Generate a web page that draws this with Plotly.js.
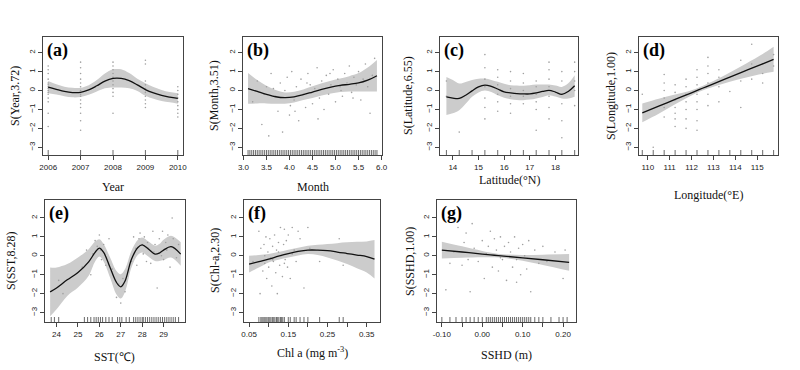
<!DOCTYPE html>
<html><head><meta charset="utf-8">
<script src="https://cdn.plot.ly/plotly-3.0.1.min.js"></script>
<style>html,body{margin:0;padding:0;background:#fff;}#chart{width:800px;height:370px;}</style>
</head><body><div id="chart"></div>
<script>
// ---------- (a) Year ----------
const yearX   = [2006,2006.25,2006.5,2006.75,2007,2007.25,2007.5,2007.75,2008,2008.25,2008.5,2008.75,2009,2009.25,2009.5,2009.75,2010];
const yearFit = [0.18,0.06,-0.05,-0.11,-0.10,0.03,0.25,0.50,0.64,0.64,0.52,0.30,0.05,-0.13,-0.26,-0.35,-0.42];
const yearUp  = [0.50,0.33,0.20,0.14,0.14,0.28,0.55,0.90,1.12,1.12,0.92,0.62,0.38,0.18,0.03,-0.08,-0.14];
const yearLo  = [-0.14,-0.21,-0.30,-0.36,-0.34,-0.22,-0.05,0.12,0.16,0.16,0.12,-0.02,-0.28,-0.44,-0.55,-0.62,-0.70];
const yearPtX = [2006,2006,2006,2006,2006,2006,2006,2006,2006,2006,2006,2006,2006,2006,2006,
                 2007,2007,2007,2007,2007,2007,2007,2007,2007,2007,2007,2007,2007,2007,2007,
                 2008,2008,2008,2008,2008,2008,2008,2008,2008,2008,2008,
                 2009,2009,2009,2009,2009,2009,2009,2009,2009,2009,
                 2010,2010,2010,2010,2010,2010,2010,2010,2010];
const yearPtY = [1.3,1.1,0.9,0.6,0.4,0.3,0.2,0.1,0.0,-0.1,-0.2,-0.4,-0.6,-1.2,-1.9,
                 1.5,1.2,0.9,0.6,0.4,0.2,0.0,-0.2,-0.3,-0.5,-0.7,-0.9,-1.2,-1.6,-2.1,
                 1.5,1.3,1.1,0.9,0.7,0.5,0.3,0.1,-0.1,-0.3,-1.2,
                 1.6,1.4,0.5,0.3,0.1,-0.1,-0.3,-0.5,-0.7,-0.9,
                 0.2,0.0,-0.2,-0.4,-0.6,-0.8,-1.0,-1.2,-1.4];
const yearRug = [2006,2007,2008,2009,2010];

// ---------- (b) Month ----------
const monX   = [3.1,3.3,3.5,3.7,3.9,4.1,4.3,4.5,4.7,4.9,5.1,5.3,5.5,5.7,5.9];
const monFit = [0.10,-0.05,-0.20,-0.33,-0.38,-0.34,-0.22,-0.08,0.06,0.18,0.27,0.33,0.40,0.55,0.78];
const monUp  = [0.92,0.55,0.25,0.03,-0.10,-0.06,0.06,0.22,0.38,0.52,0.64,0.76,0.92,1.22,1.62];
const monLo  = [-0.70,-0.68,-0.68,-0.70,-0.70,-0.64,-0.50,-0.40,-0.27,-0.16,-0.08,-0.05,-0.05,-0.05,-0.05];
const monPtX = [3.2,3.3,3.4,3.5,3.55,3.6,3.7,3.75,3.8,3.85,3.9,3.95,4.0,4.05,4.1,4.15,4.2,4.25,4.3,4.35,4.4,4.45,4.5,4.55,4.6,4.65,4.7,4.75,4.8,4.85,4.9,4.95,5.0,5.05,5.1,5.15,5.2,5.25,5.3,5.35,5.4,5.45,5.5,5.55,5.6,5.65,5.7,5.75,5.8,5.85,3.65,4.02,4.38,4.62,4.88,5.12,5.38,5.62,3.45,4.12];
const monPtY = [-0.6,0.5,-1.8,0.2,-2.4,0.9,-0.3,-1.1,0.4,-2.2,0.0,0.7,-1.3,1.0,-0.5,0.2,-1.6,0.6,-0.2,-0.9,0.9,0.3,-0.7,0.1,1.2,-0.4,0.5,-1.0,0.8,-0.2,0.3,1.1,-0.6,0.6,0.2,-0.3,0.9,0.4,1.3,-0.1,0.7,0.3,1.0,-0.5,0.6,1.4,0.2,-1.2,0.8,1.7,0.1,-0.8,0.4,-1.5,0.9,0.0,-0.4,0.5,-0.2,-1.1];
const monRug = [3.1,3.14,3.18,3.22,3.26,3.3,3.34,3.38,3.42,3.46,3.5,3.54,3.58,3.62,3.66,3.7,3.74,3.78,3.82,3.86,3.9,3.94,3.98,4.02,4.06,4.1,4.14,4.18,4.22,4.26,4.3,4.34,4.38,4.42,4.46,4.5,4.54,4.58,4.62,4.66,4.7,4.74,4.78,4.82,4.86,4.9,4.94,4.98,5.02,5.06,5.1,5.14,5.18,5.22,5.26,5.3,5.34,5.38,5.42,5.46,5.5,5.54,5.58,5.62,5.66,5.7,5.74,5.78,5.82,5.86,5.9];

// ---------- (c) Latitude ----------
const latX   = [13.75,14.0,14.25,14.5,14.75,15.0,15.25,15.5,15.75,16.0,16.25,16.5,16.75,17.0,17.25,17.5,17.75,18.0,18.25,18.5,18.75];
const latFit = [-0.33,-0.40,-0.42,-0.25,-0.02,0.19,0.29,0.22,0.08,-0.07,-0.12,-0.16,-0.18,-0.18,-0.13,-0.05,0.01,-0.08,-0.20,-0.05,0.25];
const latUp  = [0.72,0.55,0.37,0.45,0.55,0.62,0.63,0.56,0.46,0.36,0.28,0.26,0.25,0.28,0.32,0.32,0.32,0.26,0.19,0.38,0.81];
const latLo  = [-1.30,-1.20,-1.04,-0.70,-0.33,-0.10,0.00,-0.08,-0.25,-0.38,-0.46,-0.50,-0.51,-0.48,-0.42,-0.34,-0.25,-0.32,-0.42,-0.42,-0.33];
const latPtX = [13.75,13.75,14.25,15.25,15.25,15.25,15.25,15.25,15.25,15.25,15.75,15.75,15.75,15.75,15.75,15.75,16.25,16.25,16.25,16.25,16.25,16.25,16.75,16.75,16.75,16.75,16.75,17.25,17.25,17.25,17.25,17.25,17.25,17.75,17.75,17.75,17.75,17.75,17.75,17.75,18.25,18.25,18.25,18.25,18.25,18.25,18.75,18.75,18.75,18.75,18.75];
const latPtY = [0.5,-0.3,-2.2,1.9,1.2,0.6,0.2,-0.4,-0.9,-1.5,1.1,0.7,0.3,-0.2,-0.6,-1.1,1.0,0.5,0.1,-0.3,-0.7,-1.2,0.9,0.4,0.0,-0.3,-0.7,0.5,0.2,-0.2,-0.6,-1.0,-2.1,1.5,1.1,0.6,0.2,-0.3,-0.9,-1.5,1.0,0.5,-0.2,-0.7,-1.6,-2.5,1.5,1.0,0.5,0.0,-0.8];
const latRug = [13.75,14.25,14.75,15.25,15.75,16.25,16.75,17.25,17.75,18.25,18.75];

// ---------- (d) Longitude ----------
const lonX   = [109.75,110.5,111.25,112,112.5,113,113.75,114.5,115.25,115.75];
const lonFit = [-1.18,-0.83,-0.47,-0.12,0.12,0.35,0.71,1.06,1.41,1.65];
const lonUp  = [-0.68,-0.43,-0.21,0.02,0.24,0.50,0.95,1.43,1.93,2.31];
const lonLo  = [-1.68,-1.23,-0.73,-0.26,0.00,0.20,0.47,0.69,0.89,0.99];
const lonPtX = [109.75,110.25,110.75,110.75,110.75,110.75,110.75,110.75,111.25,111.25,111.25,111.25,111.25,111.25,111.25,111.75,111.75,111.75,111.75,111.75,111.75,111.75,112.25,112.25,112.25,112.25,112.25,112.25,112.25,112.25,112.75,112.75,112.75,112.75,112.75,112.75,113.25,113.25,113.25,113.25,113.75,114.25,114.25,114.25,114.75,114.75,114.75,115.25,115.25,115.25,115.75,115.75];
const lonPtY = [-0.2,-3.0,0.85,0.4,0.0,-0.4,-0.9,-1.4,0.3,-0.1,-0.5,-0.9,-1.2,-1.5,-1.9,0.6,0.2,-0.2,-0.6,-1.0,-1.5,-2.0,1.1,0.7,0.3,-0.2,-0.6,-1.0,-1.6,-2.1,1.75,1.3,0.9,0.4,-0.2,-0.8,1.1,0.7,0.2,-0.6,-0.05,1.6,0.5,-0.9,2.45,1.4,0.6,1.4,0.9,0.4,1.9,1.3];
const lonRug = [109.75,110.25,110.75,111.25,111.75,112.25,112.75,113.25,113.75,114.25,114.75,115.25,115.75];

// ---------- (e) SST ----------
const sstX   = [23.7,24.0,24.5,25.0,25.5,25.8,26.0,26.2,26.5,26.8,27.0,27.2,27.5,27.8,28.0,28.3,28.6,28.8,29.0,29.35,29.8];
const sstFit = [-1.91,-1.70,-1.27,-0.88,-0.32,0.18,0.41,0.18,-0.62,-1.41,-1.64,-1.33,-0.18,0.44,0.58,0.35,0.09,0.14,0.30,0.48,0.09];
const sstUp  = [-0.62,-0.62,-0.44,-0.09,0.35,0.75,0.88,0.62,-0.09,-0.80,-0.97,-0.70,0.27,0.85,0.97,0.75,0.53,0.62,0.85,1.06,0.71];
const sstLo  = [-3.20,-2.83,-2.12,-1.68,-1.06,-0.30,-0.04,-0.30,-1.15,-2.05,-2.26,-1.90,-0.62,0.05,0.18,-0.05,-0.27,-0.27,-0.22,-0.09,-0.53];
const sstPtX = [24.1,24.3,25.2,25.4,25.6,25.7,25.8,25.9,26.0,26.05,26.1,26.2,26.3,26.45,26.6,26.8,26.9,27.0,27.1,27.2,27.5,27.6,27.7,27.75,27.85,27.9,28.0,28.05,28.1,28.2,28.25,28.3,28.4,28.5,28.55,28.6,28.7,28.8,28.9,28.95,29.0,29.1,29.15,29.2,29.3,29.4,29.45,29.5,29.6,29.7];
const sstPtY = [-1.3,-2.0,-0.6,0.3,-1.0,0.1,0.8,0.5,1.1,0.3,-0.2,0.6,-0.5,0.9,-0.7,-2.2,-1.5,-2.5,-1.2,-1.9,-0.3,1.0,0.4,-0.5,0.9,1.2,0.6,0.1,1.0,-0.3,0.7,0.4,-0.4,1.3,0.2,0.6,-1.7,0.9,0.0,1.3,-0.2,0.7,0.3,1.1,-0.6,2.0,0.9,0.4,-0.1,0.6];
const sstRug = [23.75,23.9,24.1,25.3,25.45,25.6,25.75,25.85,25.95,26.05,26.15,26.3,26.45,26.6,26.85,26.95,27.05,27.25,27.4,27.6,27.7,27.8,27.9,28.0,28.05,28.15,28.25,28.35,28.45,28.55,28.65,28.75,28.85,28.95,29.05,29.15,29.25,29.35,29.45,29.55,29.7];

// ---------- (f) Chl a ----------
const chlX   = [0.05,0.075,0.10,0.125,0.15,0.175,0.20,0.225,0.25,0.275,0.30,0.325,0.35,0.37];
const chlFit = [-0.44,-0.31,-0.18,-0.02,0.12,0.23,0.30,0.30,0.27,0.20,0.12,0.04,-0.04,-0.18];
const chlUp  = [0.00,0.04,0.09,0.20,0.32,0.43,0.53,0.58,0.62,0.67,0.71,0.74,0.76,0.83];
const chlLo  = [-0.88,-0.62,-0.35,-0.21,-0.09,0.02,0.09,0.04,-0.09,-0.25,-0.44,-0.66,-0.88,-1.20];
const chlPtX = [0.06,0.075,0.078,0.08,0.085,0.088,0.09,0.093,0.095,0.098,0.1,0.103,0.105,0.108,0.11,0.112,0.115,0.118,0.12,0.122,0.125,0.128,0.13,0.132,0.135,0.138,0.14,0.142,0.145,0.148,0.15,0.155,0.16,0.165,0.17,0.175,0.18,0.19,0.2,0.205,0.23,0.28,0.29,0.09,0.11,0.125,0.14,0.16];
const chlPtY = [-0.3,1.3,-2.0,0.4,-0.8,0.6,-0.4,1.0,-1.2,0.2,-0.6,0.9,-0.1,-1.6,0.5,-0.3,1.1,-0.9,0.3,-2.0,0.7,-0.5,1.5,0.0,-1.1,0.6,1.4,-0.2,0.8,-0.6,1.1,-1.2,1.5,0.3,-0.3,1.3,0.9,-1.7,1.5,0.4,-0.3,0.9,-0.5,0.0,-0.2,0.2,-0.4,0.1];
const chlRug = [0.075,0.08,0.083,0.086,0.09,0.093,0.096,0.1,0.103,0.106,0.11,0.113,0.116,0.12,0.123,0.126,0.13,0.133,0.136,0.14,0.15,0.155,0.165,0.17,0.18,0.19,0.2,0.23,0.28,0.29];

// ---------- (g) SSHD ----------
const sshX   = [-0.10,-0.05,0.00,0.03,0.06,0.10,0.15,0.215];
const sshFit = [0.30,0.20,0.09,0.03,-0.03,-0.11,-0.21,-0.35];
const sshUp  = [0.74,0.50,0.26,0.14,0.07,0.04,0.06,0.09];
const sshLo  = [-0.14,-0.10,-0.08,-0.08,-0.13,-0.26,-0.48,-0.79];
const sshPtX = [-0.09,-0.08,-0.07,-0.06,-0.05,-0.045,-0.04,-0.03,-0.025,-0.02,-0.01,0.0,0.005,0.01,0.02,0.025,0.03,0.035,0.04,0.045,0.05,0.055,0.06,0.065,0.07,0.075,0.08,0.085,0.09,0.095,0.1,0.105,0.11,0.115,0.12,0.13,0.14,0.15,0.16,0.18,0.2,0.205,-0.035,0.015,0.045,0.085];
const sshPtY = [-1.8,-0.4,0.2,1.5,-0.5,0.7,1.2,-1.9,1.7,0.4,-0.3,0.8,-1.2,0.1,1.3,-0.6,0.9,0.3,-0.8,1.0,-0.2,0.5,-1.3,0.7,0.2,-0.6,1.0,-0.2,0.4,-1.0,0.6,0.0,-0.7,0.8,-1.9,0.3,-0.4,0.5,-0.3,0.2,-1.2,0.3,-0.2,0.5,-0.1,-1.4];
const sshRug = [-0.1,-0.08,-0.065,-0.05,-0.04,-0.03,-0.02,-0.01,0.0,0.01,0.015,0.02,0.025,0.03,0.035,0.04,0.045,0.05,0.055,0.06,0.065,0.07,0.075,0.08,0.085,0.09,0.095,0.1,0.105,0.11,0.115,0.12,0.13,0.14,0.15,0.17,0.19,0.2,0.21];

// ---------- titles ----------
const panelLabels = ['(a)','(b)','(c)','(d)','(e)','(f)','(g)'];
const xTitles = ['Year','Month','Latitude(°N)','Longitude(°E)','SST(℃)','Chl a (mg m<sup>-3</sup>)','SSHD (m)'];
const yTitles = ['S(Year,3.72)','S(Month,3.51)','S(Latitude,6.55)','S(Longitude,1.00)','S(SST,8.28)','S(Chl-a,2.30)','S(SSHD,1.00)'];
const xTickVals = [[2006,2007,2008,2009,2010],[3.0,3.5,4.0,4.5,5.0,5.5,6.0],[14,15,16,17,18],[110,111,112,113,114,115],[24,25,26,27,28,29],[0.05,0.10,0.15,0.20,0.25,0.30,0.35],[-0.10,-0.05,0.00,0.05,0.10,0.15,0.20]];
const xTickText = [['2006','2007','2008','2009','2010'],['3.0','3.5','4.0','4.5','5.0','5.5','6.0'],['14','15','16','17','18'],['110','111','112','113','114','115'],['24','25','26','27','28','29'],['0.05',' ','0.15',' ','0.25',' ','0.35'],['-0.10',' ','0.00',' ','0.10',' ','0.20']];
const yTickVals = [-3,-2,-1,0,1,2];

// ---------- layout geometry (pixels) ----------
const W = 800, H = 370;
const boxes = [
  {l:43,r:183,t:37,b:155, xr:[2005.84,2010.16], yr:[-3.41,2.83], ytx:15, xty:187},
  {l:243,r:382,t:37,b:155, xr:[2.99,6.01], yr:[-3.41,2.83], ytx:214, xty:187},
  {l:440,r:578,t:37,b:155, xr:[13.5,18.88], yr:[-3.41,2.83], ytx:408, xty:180},
  {l:639,r:778,t:37,b:155, xr:[109.6,115.95], yr:[-3.41,2.83], ytx:611, xty:195},
  {l:45,r:185,t:200,b:322, xr:[23.46,30.0], yr:[-3.5,2.95], ytx:11, xty:357},
  {l:244,r:380,t:200,b:322, xr:[0.037,0.384], yr:[-3.5,2.95], ytx:215, xty:352},
  {l:437,r:576,t:200,b:322, xr:[-0.112,0.232], yr:[-3.5,2.95], ytx:410, xty:355}
];
const series = [
  [yearX,yearFit,yearUp,yearLo,yearPtX,yearPtY,yearRug],
  [monX,monFit,monUp,monLo,monPtX,monPtY,monRug],
  [latX,latFit,latUp,latLo,latPtX,latPtY,latRug],
  [lonX,lonFit,lonUp,lonLo,lonPtX,lonPtY,lonRug],
  [sstX,sstFit,sstUp,sstLo,sstPtX,sstPtY,sstRug],
  [chlX,chlFit,chlUp,chlLo,chlPtX,chlPtY,chlRug],
  [sshX,sshFit,sshUp,sshLo,sshPtX,sshPtY,sshRug]
];

const traces = [];
const layout = {
  width: W, height: H, margin: {l:0,r:0,t:0,b:0},
  paper_bgcolor: '#fff', plot_bgcolor: '#fff', showlegend: false,
  font: {family: 'Liberation Sans, Arial, sans-serif', size: 8, color: '#222'},
  annotations: []
};
const serif = 'Liberation Serif, Times New Roman, serif';

boxes.forEach((bx, i) => {
  const n = i + 1;
  const xa = n === 1 ? 'x' : 'x' + n, ya = n === 1 ? 'y' : 'y' + n;
  const [sx, fit, up, lo, px, py, rug] = series[i];
  const rugY = bx.yr[0] + 2.2 / ((bx.b - bx.t) / (bx.yr[1] - bx.yr[0]));
  traces.push({x: sx, y: lo, xaxis: xa, yaxis: ya, mode: 'lines', line: {width: 0, shape: 'spline'}, hoverinfo: 'skip'});
  traces.push({x: sx, y: up, xaxis: xa, yaxis: ya, mode: 'lines', line: {width: 0, shape: 'spline'}, fill: 'tonexty', fillcolor: '#cccccc', hoverinfo: 'skip'});
  traces.push({x: px, y: py, xaxis: xa, yaxis: ya, mode: 'markers', marker: {size: 1.6, color: '#a0a0a0'}});
  traces.push({x: sx, y: fit, xaxis: xa, yaxis: ya, mode: 'lines', line: {width: 1.3, color: '#111', shape: 'spline'}});
  traces.push({x: rug, y: rug.map(() => rugY), xaxis: xa, yaxis: ya, mode: 'markers',
    marker: {symbol: 'line-ns', size: 4, line: {width: 0.8, color: '#444'}}});

  layout['xaxis' + (n === 1 ? '' : n)] = {
    domain: [bx.l / W, bx.r / W], anchor: ya, range: bx.xr,
    tickmode: 'array', tickvals: xTickVals[i], ticktext: xTickText[i],
    ticks: 'outside', ticklen: 4, tickwidth: 1, tickcolor: '#444',
    showline: true, linecolor: '#444', linewidth: 1, mirror: true,
    showgrid: false, zeroline: false, tickfont: {size: 8, color: '#222'}
  };
  layout['yaxis' + (n === 1 ? '' : n)] = {
    domain: [1 - bx.b / H, 1 - bx.t / H], anchor: xa, range: bx.yr,
    tickmode: 'array', tickvals: yTickVals, tickangle: -90,
    ticks: 'outside', ticklen: 4, tickwidth: 1, tickcolor: '#444',
    showline: true, linecolor: '#444', linewidth: 1, mirror: true,
    showgrid: false, zeroline: false, tickfont: {size: 8, color: '#222'}
  };
  layout.annotations.push({text: panelLabels[i], xref: 'paper', yref: 'paper',
    x: (bx.l + 2) / W, y: 1 - (bx.t + 1) / H, xanchor: 'left', yanchor: 'top', showarrow: false,
    font: {family: serif, size: 18, color: '#000', weight: 'bold'}});
  layout.annotations.push({text: xTitles[i], xref: 'paper', yref: 'paper',
    x: (bx.l + bx.r) / 2 / W, y: 1 - bx.xty / H, xanchor: 'center', yanchor: 'middle', showarrow: false,
    font: {family: serif, size: 12, color: '#111'}});
  layout.annotations.push({text: yTitles[i], xref: 'paper', yref: 'paper', textangle: -90,
    x: bx.ytx / W, y: 1 - (bx.t + bx.b) / 2 / H, xanchor: 'center', yanchor: 'middle', showarrow: false,
    font: {family: serif, size: 12, color: '#111'}});
});

Plotly.newPlot('chart', traces, layout, {displayModeBar: false, staticPlot: true});
</script>
</body></html>
